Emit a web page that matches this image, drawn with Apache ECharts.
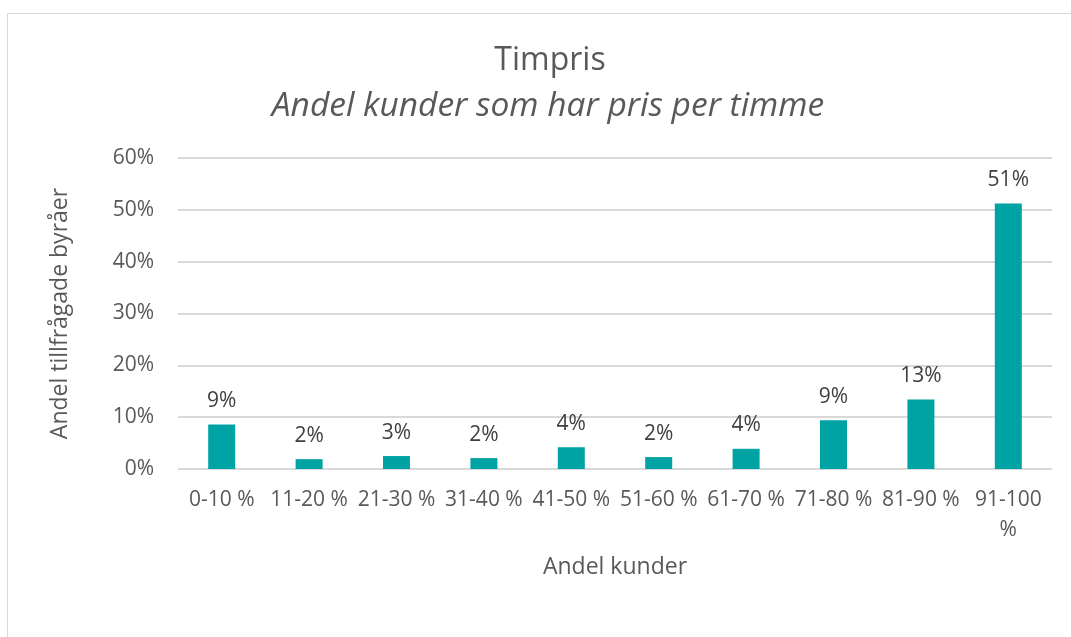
<!DOCTYPE html>
<html>
<head>
<meta charset="utf-8">
<script src="https://cdn.jsdelivr.net/npm/echarts@6/dist/echarts.min.js"></script>
<style>
  html, body { margin: 0; padding: 0; background: #fff; }
  .frame {
    position: absolute; left: 7px; top: 13px;
    width: 1100px; height: 700px;
    border: 1px solid #d9d9d9;
  }
  #chart { position: absolute; left: 0; top: 0; width: 1071px; height: 637px; }
</style>
</head>
<body>
<div class="frame"></div>
<div id="chart"></div>
<script>
// kategorier och värden (andel i %)
const categories = ['0-10 %', '11-20 %', '21-30 %', '31-40 %', '41-50 %',
  '51-60 %', '61-70 %', '71-80 %', '81-90 %', '91-100 %'];
const values = [8.6, 1.9, 2.5, 2.1, 4.2, 2.3, 3.9, 9.4, 13.4, 51.2];
const yTicks = [0, 10, 20, 30, 40, 50, 60];

const textColor = '#595959';
const font = '"Open Sans", sans-serif';

let myChart = echarts.init(document.getElementById('chart'));
let option = {
  textStyle: { fontFamily: font },
  title: [
    {
      text: 'Timpris',
      left: 545,
      textAlign: 'center',
      top: 40,
      textStyle: { fontFamily: font, fontSize: 32, fontWeight: 'normal', color: textColor }
    },
    {
      text: 'Andel kunder som har pris per timme',
      left: 543,
      textAlign: 'center',
      top: 84,
      textStyle: { fontFamily: font, fontSize: 33.5, fontWeight: 'normal', fontStyle: 'italic', color: textColor }
    }
  ],
  grid: { left: 178, right: 19, top: 158, bottom: 168 },
  xAxis: {
    type: 'category',
    data: categories,
    name: 'Andel kunder',
    nameLocation: 'middle',
    nameGap: 87,
    nameTextStyle: { fontFamily: font, fontSize: 23, color: textColor },
    axisLine: { lineStyle: { color: '#d9d9d9', width: 1 } },
    axisTick: { show: false },
    axisLabel: {
      interval: 0,
      margin: 16,
      fontSize: 21,
      color: textColor,
      lineHeight: 30,
      formatter: v => v === '91-100 %' ? '91-100\n%' : v,
      verticalAlign: 'top'
    }
  },
  yAxis: {
    type: 'value',
    min: 0,
    max: 60,
    interval: 10,
    name: 'Andel tillfrågade byråer',
    nameLocation: 'middle',
    nameGap: 106,
    nameTextStyle: { fontFamily: font, fontSize: 23, color: textColor },
    axisLine: { show: false },
    axisTick: { show: false },
    axisLabel: {
      fontSize: 21,
      color: textColor,
      margin: 24,
      formatter: v => yTicks.includes(v) ? v + '%' : ''
    },
    splitLine: { lineStyle: { color: '#d9d9d9', width: 2 } }
  },
  series: [
    {
      type: 'bar',
      data: values,
      barWidth: 27,
      itemStyle: { color: '#00A3A3' },
      label: {
        show: true,
        position: 'top',
        distance: 13,
        fontSize: 21,
        color: '#404040',
        formatter: p => Math.round(p.value) + '%'
      }
    }
  ]
};
myChart.setOption(option);
</script>
</body>
</html>
